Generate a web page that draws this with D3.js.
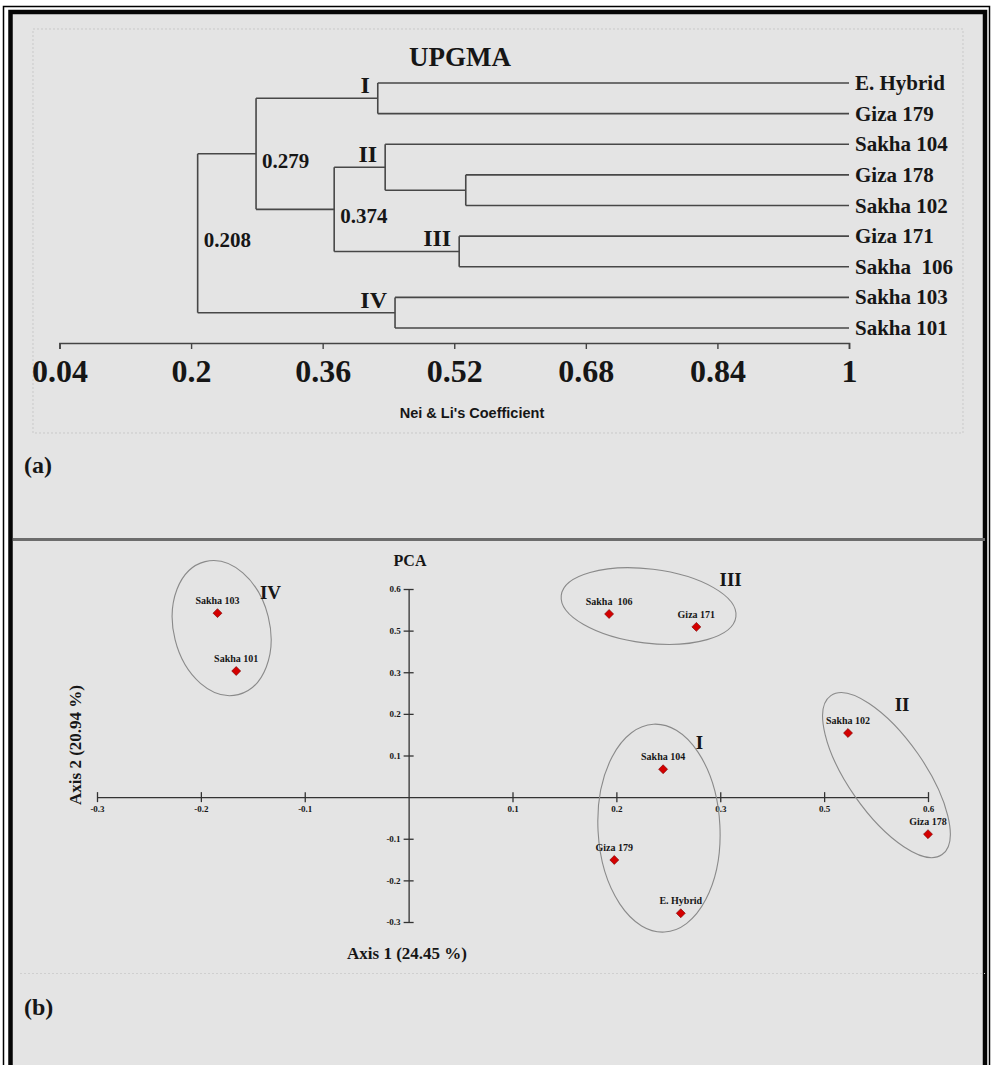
<!DOCTYPE html>
<html>
<head>
<meta charset="utf-8">
<script src="https://cdn.jsdelivr.net/npm/d3@7"></script>
<style>
body{margin:0;background:#fff;}
svg{display:block;}
text{font-family:"Liberation Serif","Times New Roman",serif;font-weight:bold;fill:#161616;white-space:pre;}
.sans{font-family:"Liberation Sans",Arial,sans-serif;}
</style>
</head>
<body>
<div class="figure"></div>
<script>
// ---- (a) UPGMA dendrogram ----
const leafNames = ['E. Hybrid','Giza 179','Sakha 104','Giza 178','Sakha 102','Giza 171','Sakha  106','Sakha 103','Sakha 101'];
const mergeIds = ['n1','n2','n3','n4','n5','n6','n7','root'];
const mergeChildren = [
    ['E. Hybrid','Giza 179'],
    ['Giza 178','Sakha 102'],
    ['Sakha 104','n2'],
    ['Giza 171','Sakha  106'],
    ['n3','n4'],
    ['n1','n5'],
    ['Sakha 103','Sakha 101'],
    ['n6','n7']
];
const mergeHeights = [0.427,0.534,0.436,0.526,0.374,0.279,0.448,0.208];
const mergeClusterLabels = ['I','','II','III','','','IV',''];
const mergeValueLabels = ['','','','','0.374','0.279','','0.208'];
const coefTicks = [0.04,0.2,0.36,0.52,0.68,0.84,1];
const coefTickLabels = ['0.04','0.2','0.36','0.52','0.68','0.84','1'];

// ---- (b) PCA ----
const pcaNames = ['Sakha 103','Sakha 101','Sakha  106','Giza 171','Sakha 102','Sakha 104','Giza 178','Giza 179','E. Hybrid'];
const axis1 = [-0.184,-0.166,0.193,0.277,0.423,0.245,0.500,0.198,0.262];
const axis2 = [0.442,0.303,0.440,0.409,0.154,0.067,-0.089,-0.151,-0.279];
const pcaTickValues = [-0.3,-0.2,-0.1,0.1,0.2,0.3,0.4,0.5];
const pcaTickLabels = ['-0.3','-0.2','-0.1','0.1','0.2','0.3','0.5','0.6'];
// circled groups: centre, semi axes (axis units), tilt (deg)
const groupNames = ['I','II','III','IV'];
const groupCx = [0.241,0.46,0.231,-0.18];
const groupCy = [-0.0745,0.053,0.459,0.406];
const groupRx = [0.0587,0.0934,0.0847,0.0462];
const groupRy = [0.25,0.0913,0.089,0.1647];
const groupTilt = [-3,55,7,-14];
const groupLabelX = [0.28,0.475,0.31,-0.133];
const groupLabelY = [0.132,0.224,0.522,0.493];

const svg_width = 992;
const svg_height = 1065;

const svg = d3.select('.figure').append('svg')
    .attr('width',svg_width).attr('height',svg_height);

// frame
svg.append('rect').attr('x',3.5).attr('y',6.5).attr('width',986).attr('height',1080)
    .attr('fill','#fff').attr('stroke','#000').attr('stroke-width',1.5);
svg.append('rect').attr('x',10.5).attr('y',12).attr('width',974.5).attr('height',1080)
    .attr('fill','#e4e4e4').attr('stroke','#050505').attr('stroke-width',4.5);

// ============ dendrogram ============
const topPanel = svg.append('g').attr('class','dendro');
topPanel.append('rect').attr('x',33).attr('y',29).attr('width',930).attr('height',404)
    .attr('fill','none').attr('stroke','#c9c9c9').attr('stroke-dasharray','2,2');

const xCoef = d3.scaleLinear().domain([0.04,1]).range([59.5,849]);
const yLeaf = d3.scalePoint().domain(leafNames).range([83,328]);

// node positions
const nodeY = {}, nodeH = {};
leafNames.forEach(n=>{ nodeY[n]=yLeaf(n); nodeH[n]=1; });
mergeIds.forEach((id,i)=>{
    const ch = mergeChildren[i];
    nodeY[id] = d3.mean(ch, c=>nodeY[c]);
    nodeH[id] = mergeHeights[i];
});

const links = topPanel.append('g').attr('class','links')
    .attr('stroke','#474747').attr('stroke-width',1.6).attr('fill','none');
mergeIds.forEach((id,i)=>{
    const ch = mergeChildren[i];
    const x0 = xCoef(mergeHeights[i]);
    links.append('line').attr('x1',x0).attr('x2',x0)
        .attr('y1',nodeY[ch[0]]).attr('y2',nodeY[ch[1]]);
    ch.forEach(c=>{
        links.append('line').attr('x1',x0).attr('x2',xCoef(nodeH[c]))
            .attr('y1',nodeY[c]).attr('y2',nodeY[c]);
    });
});

topPanel.selectAll('.leaf').data(leafNames).join('text').attr('class','leaf')
    .attr('x',xCoef(1)+6).attr('y',d=>yLeaf(d)+7)
    .style('font-size','21px').text(d=>d);

topPanel.selectAll('.clab').data(mergeIds.filter((d,i)=>mergeClusterLabels[i]))
    .join('text').attr('class','clab')
    .attr('x',d=>xCoef(nodeH[d])-8).attr('y',d=>nodeY[d]-5)
    .attr('text-anchor','end').style('font-size','24px')
    .text(d=>mergeClusterLabels[mergeIds.indexOf(d)]);

topPanel.selectAll('.vlab').data(mergeIds.filter((d,i)=>mergeValueLabels[i]))
    .join('text').attr('class','vlab')
    .attr('x',d=>xCoef(nodeH[d])+6).attr('y',d=>nodeY[d]+14)
    .style('font-size','21px')
    .text(d=>mergeValueLabels[mergeIds.indexOf(d)]);

topPanel.append('text').attr('x',460).attr('y',66).attr('text-anchor','middle')
    .style('font-size','27px').text('UPGMA');

const coefAxis = d3.axisBottom(xCoef).tickValues(coefTicks)
    .tickFormat((d,i)=>coefTickLabels[i]).tickSize(6).tickSizeOuter(6);
const coefAxisDraw = topPanel.append('g').attr('transform','translate(0,343)').call(coefAxis);
coefAxisDraw.select('.domain').attr('stroke','#444').attr('stroke-width',1.6);
coefAxisDraw.selectAll('.tick line').attr('stroke','#444').attr('stroke-width',1.4);
coefAxisDraw.selectAll('.tick text').attr('y',16).attr('fill','#161616')
    .style('font-size','32px').style('font-family','"Liberation Serif",serif').style('font-weight','bold');

topPanel.append('text').attr('class','sans').attr('x',472).attr('y',418).attr('text-anchor','middle')
    .style('font-size','14.5px').text("Nei & Li's Coefficient");

svg.append('text').attr('x',24).attr('y',473).style('font-size','24px').text('(a)');

// divider between panels
svg.append('line').attr('x1',13).attr('x2',985).attr('y1',539.5).attr('y2',539.5)
    .attr('stroke','#6c6c6c').attr('stroke-width',3);

// ============ PCA ============
const bottomPanel = svg.append('g').attr('class','pca');
const xPca = d3.scaleLinear().domain([-0.3,0.5]).range([97,928]);
const yPca = d3.scaleLinear().domain([-0.3,0.5]).range([922,589]);

bottomPanel.append('text').attr('x',410).attr('y',566).attr('text-anchor','middle')
    .style('font-size','16px').text('PCA');

const xAxis = d3.axisBottom(xPca).tickValues(pcaTickValues)
    .tickFormat((d,i)=>pcaTickLabels[i]).tickSize(5).tickSizeOuter(0);
const yAxis = d3.axisLeft(yPca).tickValues(pcaTickValues)
    .tickFormat((d,i)=>pcaTickLabels[i]).tickSize(5).tickSizeOuter(0);

const xAxisDraw = bottomPanel.append('g').attr('transform',`translate(0,${yPca(0)})`).call(xAxis);
const yAxisDraw = bottomPanel.append('g').attr('transform',`translate(${xPca(0)},0)`).call(yAxis);
[xAxisDraw,yAxisDraw].forEach(a=>{
    a.select('.domain').attr('stroke','#333').attr('stroke-width',1.3);
    a.selectAll('.tick line').attr('stroke','#333').attr('stroke-width',1.3);
    a.selectAll('.tick text').attr('fill','#161616')
        .style('font-size','9px').style('font-family','"Liberation Serif",serif').style('font-weight','bold');
});
xAxisDraw.selectAll('.tick line').attr('y1',-5);
yAxisDraw.selectAll('.tick line').attr('x1',5);

// group ellipses
bottomPanel.selectAll('.group').data(groupNames).join('ellipse').attr('class','group')
    .attr('transform',(d,i)=>`translate(${xPca(groupCx[i])},${yPca(groupCy[i])}) rotate(${groupTilt[i]})`)
    .attr('rx',(d,i)=>xPca(groupRx[i])-xPca(0))
    .attr('ry',(d,i)=>yPca(0)-yPca(groupRy[i]))
    .attr('fill','none').attr('stroke','#8a8a8a').attr('stroke-width',1.1);

bottomPanel.selectAll('.glab').data(groupNames).join('text').attr('class','glab')
    .attr('x',(d,i)=>xPca(groupLabelX[i])).attr('y',(d,i)=>yPca(groupLabelY[i]))
    .attr('dy','0.35em').attr('text-anchor','middle')
    .style('font-size','19px').text(d=>d);

// points
const pts = pcaNames.map((n,i)=>({name:n,a1:axis1[i],a2:axis2[i]}));
bottomPanel.selectAll('.pt').data(pts).join('path').attr('class','pt')
    .attr('d',d3.symbol(d3.symbolSquare,40))
    .attr('transform',d=>`translate(${xPca(d.a1)},${yPca(d.a2)}) rotate(45)`)
    .attr('fill','#d40000').attr('stroke','#7a0000').attr('stroke-width',0.6);
bottomPanel.selectAll('.plab').data(pts).join('text').attr('class','plab')
    .attr('x',d=>xPca(d.a1)).attr('y',d=>yPca(d.a2)-9)
    .attr('text-anchor','middle').style('font-size','10px').text(d=>d.name);

bottomPanel.append('text').attr('x',407).attr('y',959).attr('text-anchor','middle')
    .style('font-size','17px').text('Axis 1 (24.45 %)');
bottomPanel.append('text').attr('transform','translate(81,745) rotate(-90)').attr('text-anchor','middle')
    .style('font-size','17px').text('Axis 2 (20.94 %)');

bottomPanel.append('line').attr('x1',20).attr('x2',985).attr('y1',973.5).attr('y2',973.5)
    .attr('stroke','#cfcfcf').attr('stroke-dasharray','2,2');

svg.append('text').attr('x',24).attr('y',1015).style('font-size','24px').text('(b)');
</script>
</body>
</html>
